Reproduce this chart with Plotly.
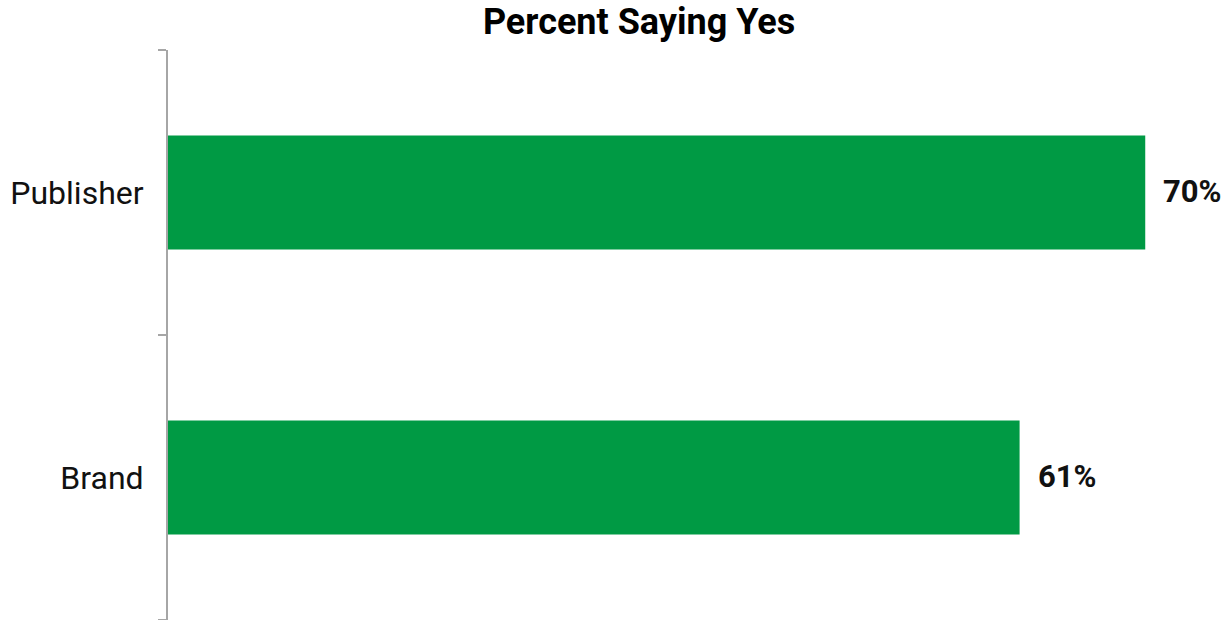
import plotly.graph_objects as go

categories = ["Brand", "Publisher"]
values = [61, 70]
labels = ["61%", "70%"]

fig = go.Figure(go.Bar(
    y=categories, x=values, orientation="h",
    marker=dict(color="#009A44", line=dict(width=0)),
    width=0.4, hoverinfo="skip",
))

for c, v, t in zip(categories, values, labels):
    fig.add_annotation(x=v, y=c, text="<b>" + t + "</b>", showarrow=False,
                       xanchor="left", yanchor="middle", xshift=16, yshift=1,
                       font=dict(family="Roboto", size=31, color="#111111"))

fig.update_layout(
    width=1229, height=620,
    margin=dict(l=168, r=0, t=50, b=0),
    paper_bgcolor="white", plot_bgcolor="white",
    title=dict(text="<b>Percent Saying Yes</b>", x=0.52, xanchor="center", y=0.965, yanchor="middle",
               font=dict(family="Roboto", size=36, color="#000000")),
    showlegend=False,
    xaxis=dict(range=[0, 76], visible=False, showgrid=False, zeroline=False),
    yaxis=dict(showline=True, linecolor="#a6a6a6", linewidth=2,
               ticks="outside", ticklen=8, tickcolor="#a6a6a6", tickwidth=2,
               tickson="boundaries", range=[-0.5, 1.5], ticklabelstandoff=16,
               tickfont=dict(family="Roboto", size=32, color="#111111"),
               showgrid=False, automargin=False),
)
fig.write_html("out.html", config={"displayModeBar": False})

with open("out.html", "r", encoding="utf-8") as f:
    html = f.read()
html = html.replace("<body>", '<body style="margin:0;padding:0;">', 1)
html = html.replace("<head>", "<head><style>html,body{margin:0;padding:0;overflow:hidden;}</style>", 1)
with open("out.html", "w", encoding="utf-8") as f:
    f.write(html)
